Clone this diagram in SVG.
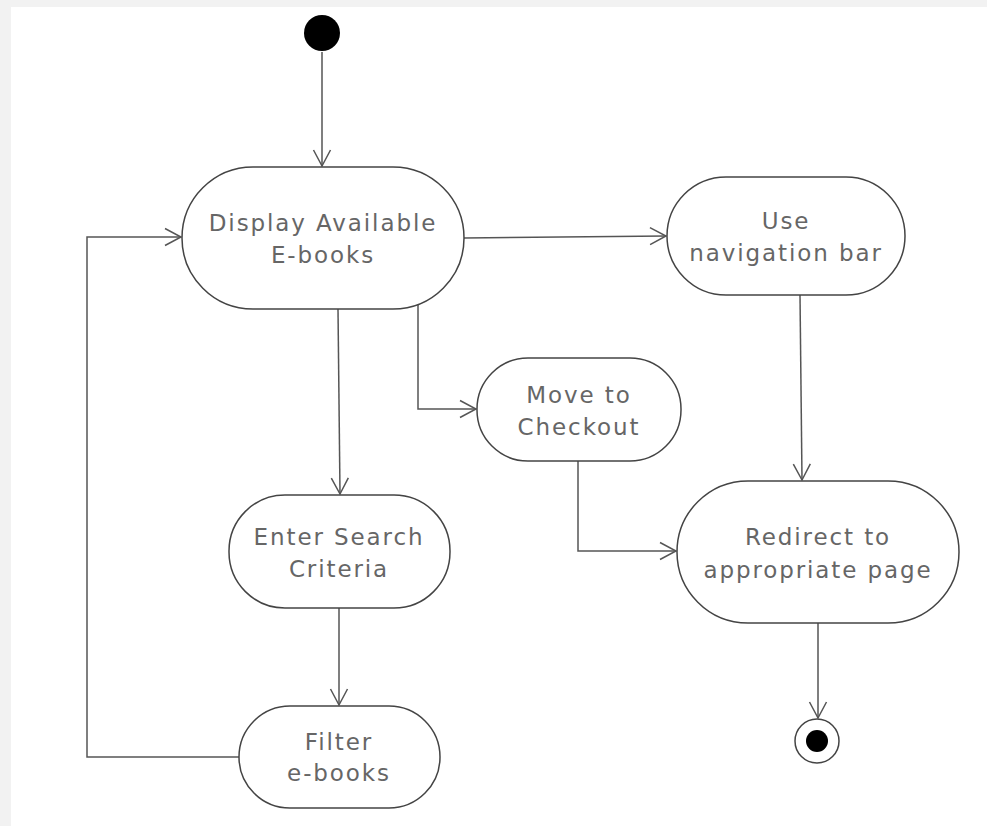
<svg xmlns="http://www.w3.org/2000/svg" width="987" height="826" viewBox="0 0 987 826">
<defs>
<marker id="arr" viewBox="0 0 20 20" refX="18" refY="10" markerWidth="20" markerHeight="20" markerUnits="userSpaceOnUse" orient="auto">
<path d="M2,1.5 L18,10 L2,18.5" fill="none" stroke="#555" stroke-width="1.5"/>
</marker>
</defs>
<style>
.node{fill:#fff;stroke:#444;stroke-width:1.5}
.lbl{font-family:"DejaVu Sans",Verdana,sans-serif;font-size:23px;letter-spacing:1.9px;fill:#666;text-anchor:middle}
.edge{fill:none;stroke:#555;stroke-width:1.5;marker-end:url(#arr)}
</style>
<rect x="0" y="0" width="987" height="826" fill="#f2f2f2"/>
<rect x="11" y="7" width="976" height="819" fill="#fff"/>
<g id="edges">
<path class="edge" d="M322,52 L322,166"/>
<path class="edge" d="M464,238 L666,236"/>
<path class="edge" d="M338,309 L340,494"/>
<path class="edge" d="M418,305 L418,409 L476,409"/>
<path class="edge" d="M800,295 L802,480"/>
<path class="edge" d="M578,461 L578,551 L676,551"/>
<path class="edge" d="M339,608 L339,705"/>
<path class="edge" d="M239,757 L87,757 L87,237 L181,237"/>
<path class="edge" d="M818,623 L818,718"/>
</g>
<g id="start"><circle cx="322" cy="33" r="18" fill="#000"/></g>
<g id="display">
<rect class="node" x="182" y="167" width="282" height="142" rx="71" ry="71"/>
<text class="lbl" x="323" y="231">Display Available</text>
<text class="lbl" x="323" y="263">E-books</text>
</g>
<g id="nav">
<rect class="node" x="667" y="177" width="238" height="118" rx="59" ry="59"/>
<text class="lbl" x="786" y="229">Use</text>
<text class="lbl" x="786" y="261">navigation bar</text>
</g>
<g id="checkout">
<rect class="node" x="477" y="358" width="204" height="103" rx="51" ry="51"/>
<text class="lbl" x="579" y="403">Move to</text>
<text class="lbl" x="579" y="435">Checkout</text>
</g>
<g id="search">
<rect class="node" x="229" y="495" width="221" height="113" rx="56" ry="56"/>
<text class="lbl" x="339" y="545">Enter Search</text>
<text class="lbl" x="339" y="577">Criteria</text>
</g>
<g id="filter">
<rect class="node" x="239" y="706" width="201" height="102" rx="51" ry="51"/>
<text class="lbl" x="339" y="750">Filter</text>
<text class="lbl" x="339" y="781">e-books</text>
</g>
<g id="redirect">
<rect class="node" x="677" y="481" width="282" height="142" rx="71" ry="71"/>
<text class="lbl" x="818" y="545">Redirect to</text>
<text class="lbl" x="818" y="578">appropriate page</text>
</g>
<g id="end">
<circle cx="817" cy="741" r="22" fill="#fff" stroke="#444" stroke-width="1.5"/>
<circle cx="817" cy="741" r="11" fill="#000"/>
</g>
</svg>
